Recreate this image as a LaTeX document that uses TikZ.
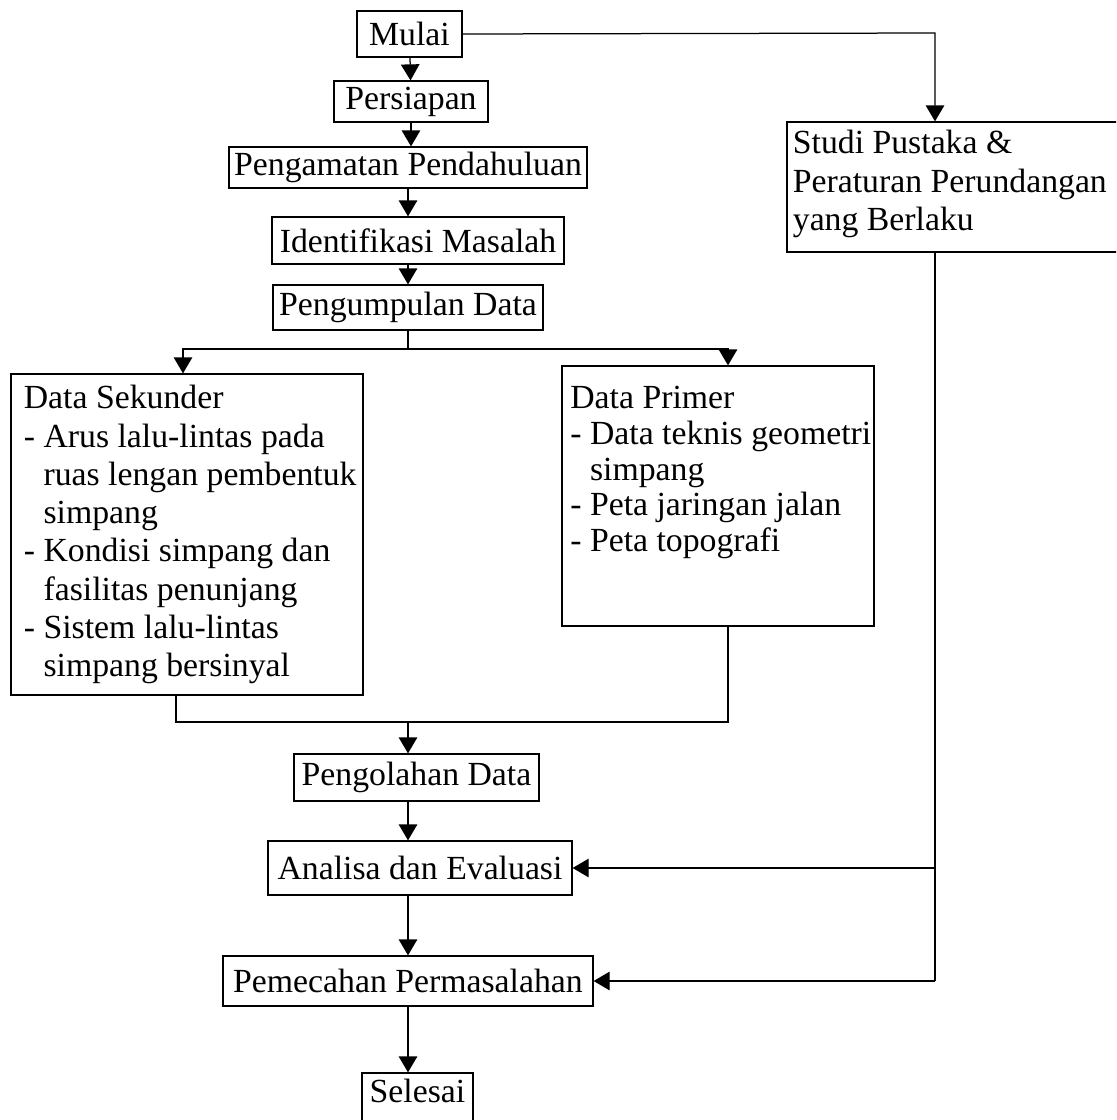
\documentclass[tikz,border=0pt]{standalone}
\usepackage{fontspec}
\setmainfont{Liberation Serif}
\usepackage{tikz}
\usetikzlibrary{arrows.meta}
\tikzstyle{kotak} = [draw,line width=0.5pt,inner sep=0pt,font=\fontsize{13.5pt}{15.3pt}\selectfont]
\tikzstyle{isi} = [inner sep=0pt,align=left,anchor=north west,font=\fontsize{13.5pt}{15.3pt}\selectfont]
\tikzstyle{panah} = [line width=0.5pt,-{Triangle[length=6.4pt,width=7.4pt]}]
\newcommand{\ind}{\phantom{- }}

\begin{document}
\begin{tikzpicture}[x=0.4pt,y=-0.4pt]
            \useasboundingbox (0,0) rectangle (1116,1120);
            \clip (0,0) rectangle (1116,1120);
            % boxes
          \node[kotak,minimum width=42pt,minimum height=18.4pt] (mulai) at (409.5,34) {Mulai};
          \node[kotak,minimum width=61.6pt,minimum height=16.4pt] (persiapan) at (411,101.5) {Persiapan};
          \node[kotak,minimum width=143.2pt,minimum height=16.4pt] (pengamatan) at (408,167.5) {Pengamatan Pendahuluan};
          \node[kotak,minimum width=116.8pt,minimum height=18.8pt] (identifikasi) at (418,240.5) {Identifikasi Masalah};
          \node[kotak,minimum width=108pt,minimum height=18pt] (pengumpulan) at (408,307.5) {Pengumpulan Data};
          \node[kotak,minimum width=140.8pt,minimum height=128.4pt] (sekunder) at (187,534.5) {};
          \node[kotak,minimum width=124.8pt,minimum height=104pt] (primer) at (718,496) {};
          \node[kotak,minimum width=137.2pt,minimum height=52pt] (studi) at (958.5,187) {};
          \node[kotak,minimum width=98pt,minimum height=18.8pt] (pengolahan) at (416.5,777.5) {Pengolahan Data};
          \node[kotak,minimum width=121.6pt,minimum height=21.6pt] (analisa) at (420,868) {Analisa dan Evaluasi};
          \node[kotak,minimum width=148pt,minimum height=20pt] (pemecahan) at (408,981) {Pemecahan Permasalahan};
          \node[kotak,minimum width=44.4pt,minimum height=24.8pt] (selesai) at (417.5,1104) {};
          \node[isi,anchor=north] (selesaiisi) at ([yshift=-2.6pt]selesai.north) {Selesai};

            % box texts
          \node[isi] (sekunderisi) at ([xshift=5.2pt,yshift=-4.6pt]sekunder.north west)
            {Data Sekunder\\- Arus lalu-lintas pada\\\ind ruas lengan pembentuk\\\ind simpang\\- Kondisi simpang dan\\\ind fasilitas penunjang\\- Sistem lalu-lintas\\\ind simpang bersinyal};
          \node[isi,font=\fontsize{13.5pt}{14.3pt}\selectfont] (primerisi) at ([xshift=3.4pt,yshift=-8.2pt]primer.north west)
            {Data Primer\\- Data teknis geometri\\\ind simpang\\- Peta jaringan jalan\\- Peta topografi};
          \node[isi] (studiisi) at ([xshift=2.4pt,yshift=-3.4pt]studi.north west)
            {Studi Pustaka \&\\Peraturan Perundangan\\yang Berlaku};

            % helper points
          \coordinate (cabang) at (408,349);
          \coordinate (gabung) at (408,722);
          \coordinate (kanan) at (935,33);

            % connectors
          \draw[panah] (mulai) -- (persiapan);
          \draw[panah] (persiapan) -- (persiapan.south |- pengamatan.north);
          \draw[panah] (pengamatan.south) -- (pengamatan.south |- identifikasi.north);
          \draw[panah] (pengumpulan.north |- identifikasi.south) -- (pengumpulan.north);
          \draw[line width=0.5pt] (pengumpulan.south) -- (cabang);
          \draw[panah] (cabang) -| ([xshift=-1.6pt]sekunder.north);
          \draw[panah] (cabang) -| ([xshift=4pt]primer.north);
          \draw[line width=0.5pt] ([xshift=-4.4pt]sekunder.south) |- (gabung);
          \draw[line width=0.5pt] ([xshift=4pt]primer.south) |- (gabung);
          \draw[panah] (gabung) -- (pengolahan.north -| gabung);
          \draw[panah] (pengolahan.south -| gabung) -- (analisa.north -| gabung);
          \draw[panah] (analisa.south -| gabung) -- (pemecahan.north);
          \draw[panah] (pemecahan.south) -- (selesai.north -| pemecahan.south);

          \draw[panah] (mulai.east) -- (kanan) -- (studi.north -| kanan);
          \draw[line width=0.5pt] (studi.south -| kanan) -- (pemecahan.east -| kanan);
          \draw[panah] (analisa.east -| kanan) -- (analisa.east);
          \draw[panah] (pemecahan.east -| kanan) -- (pemecahan.east);
        \end{tikzpicture}
\end{document}
